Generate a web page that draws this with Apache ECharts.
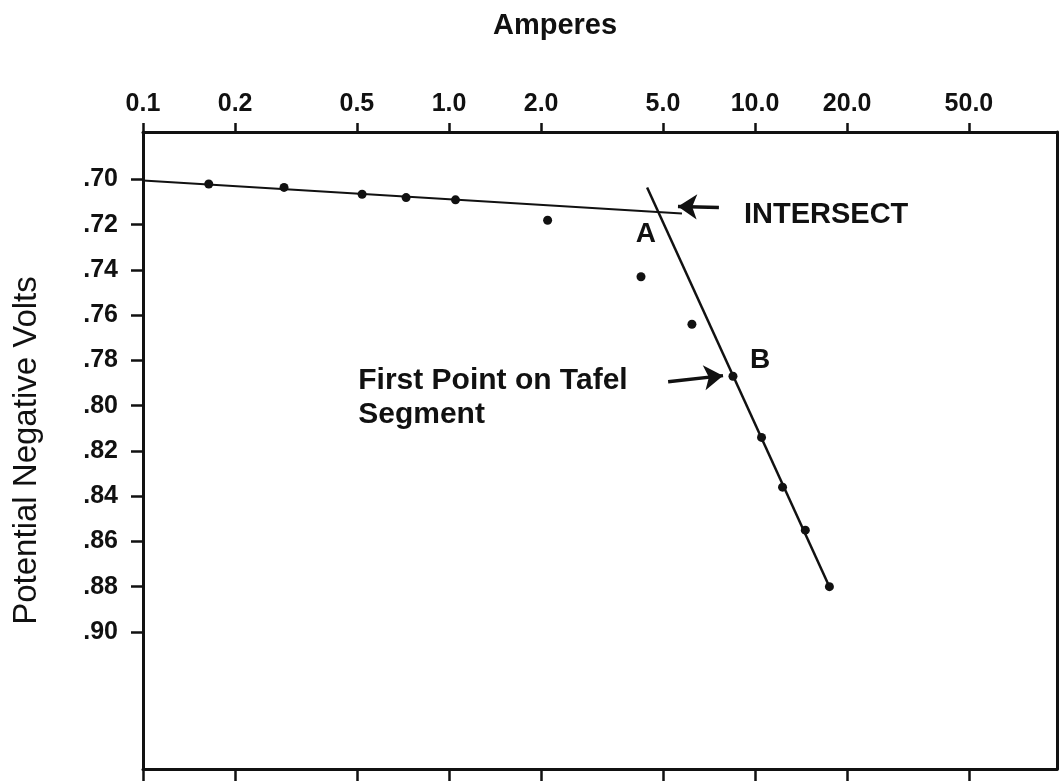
<!DOCTYPE html>
<html>
<head>
<meta charset="utf-8">
<title>Tafel plot</title>
<style>
  html, body { margin: 0; padding: 0; background: #fff; }
  #chartContainer { width: 1060px; height: 782px; }
</style>
</head>
<body>
<div id="chartContainer"></div>
<script src="https://cdn.jsdelivr.net/npm/echarts@6/dist/echarts.min.js"></script>
<script>
// measured points (current in amperes, potential in negative volts)
const amps = [0.164, 0.289, 0.52, 0.724, 1.05, 2.1, 4.24, 6.22, 8.47, 10.5, 12.3, 14.6, 17.5];
const volts = [0.702, 0.7035, 0.7065, 0.708, 0.709, 0.718, 0.743, 0.764, 0.787, 0.814, 0.836, 0.855, 0.880];

// hand drawn fit lines
const flatLine = [[0.1, 0.7004], [5.77, 0.715]];
const tafelLine = [[4.44, 0.7035], [17.5, 0.880]];

const xTicks = [0.1, 0.2, 0.5, 1, 2, 5, 10, 20, 50];
const xTickLabels = ['0.1', '0.2', '0.5', '1.0', '2.0', '5.0', '10.0', '20.0', '50.0'];
const yTicks = [0.70, 0.72, 0.74, 0.76, 0.78, 0.80, 0.82, 0.84, 0.86, 0.88, 0.90];
const yTickLabels = ['.70', '.72', '.74', '.76', '.78', '.80', '.82', '.84', '.86', '.88', '.90'];

// annotations: text, amps, volts
const notes = [
    ['INTERSECT', 9.2, 0.7159],
    ['A', 4.40, 0.7243],
    ['B', 10.38, 0.7801],
    ['First Point on Tafel\nSegment', 0.505, 0.7965]
];
const arrows = [
    [[7.62, 0.7124], [5.60, 0.7119]],
    [[5.20, 0.7894], [7.86, 0.7867]]
];

const FONT = "'Liberation Sans', Arial, sans-serif";
const INK = '#111';

function xLabel(v) {
    const i = xTicks.findIndex(t => Math.abs(Math.log10(t) - Math.log10(v)) < 1e-6);
    return i >= 0 ? xTickLabels[i] : '';
}

function yLabel(v) {
    const i = yTicks.findIndex(t => Math.abs(t - v) < 1e-6);
    return i >= 0 ? yTickLabels[i] : '';
}

const chart = echarts.init(document.getElementById('chartContainer'));

const axisLine = { show: true, onZero: false, lineStyle: { color: INK, width: 3 } };

const option = {
    animation: false,
    backgroundColor: '#fff',
    textStyle: { fontFamily: FONT },
    title: {
        text: 'Amperes',
        left: 488,
        top: 6,
        textStyle: { fontSize: 29, fontWeight: 'bold', color: INK, fontFamily: FONT }
    },
    grid: { left: 143, top: 132, right: 3, bottom: 13, containLabel: false, outerBoundsMode: 'none' },
    xAxis: [
        {
            type: 'log', position: 'top', min: 0.1, max: 97,
            axisLine,
            axisTick: { show: true, inside: false, length: 9, customValues: xTicks, lineStyle: { color: INK, width: 2.5 } },
            axisLabel: {
                customValues: xTicks, formatter: xLabel, margin: 15,
                fontSize: 25, fontWeight: 'bold', color: INK, fontFamily: FONT
            },
            minorTick: { show: false },
            splitLine: { show: false }
        },
        {
            type: 'log', position: 'bottom', min: 0.1, max: 97,
            axisLine,
            axisTick: { show: true, inside: false, length: 12, customValues: xTicks, lineStyle: { color: INK, width: 2.5 } },
            axisLabel: { show: false },
            splitLine: { show: false }
        }
    ],
    yAxis: [
        {
            type: 'value', position: 'left', inverse: true, min: 0.679, max: 0.9606,
            name: 'Potential Negative Volts',
            nameLocation: 'middle', nameGap: 100, nameRotate: 90, nameMoveOverlap: false,
            nameTextStyle: { fontSize: 33, color: INK, fontFamily: FONT },
            axisLine,
            axisTick: { show: true, inside: false, length: 12, customValues: yTicks, lineStyle: { color: INK, width: 2.5 } },
            axisLabel: {
                customValues: yTicks, formatter: yLabel, margin: 25,
                fontSize: 25, fontWeight: 'bold', color: INK, fontFamily: FONT
            },
            splitLine: { show: false }
        },
        {
            type: 'value', position: 'right', inverse: true, min: 0.679, max: 0.9606,
            axisLine,
            axisTick: { show: false },
            axisLabel: { show: false },
            splitLine: { show: false }
        }
    ],
    series: [
        {
            name: 'flat',
            type: 'line',
            data: flatLine,
            symbol: 'none',
            lineStyle: { color: INK, width: 2 },
            silent: true
        },
        {
            name: 'tafel',
            type: 'line',
            data: tafelLine,
            symbol: 'none',
            lineStyle: { color: INK, width: 2.5 },
            silent: true
        },
        {
            name: 'points',
            type: 'scatter',
            data: amps.map((a, i) => [a, volts[i]]),
            symbolSize: 9,
            itemStyle: { color: INK, opacity: 1 },
            z: 5
        },
        {
            name: 'notes',
            type: 'scatter',
            symbolSize: 0,
            silent: true,
            itemStyle: { opacity: 1 },
            data: notes.map(n => ({
                name: n[0],
                value: [n[1], n[2]],
                label: n[0].length === 1
                    ? { position: 'inside', fontSize: 28 }
                    : { position: 'right', distance: 0, fontSize: n[0] === 'INTERSECT' ? 29 : 30, lineHeight: 34 }
            })),
            label: {
                show: true,
                formatter: '{b}',
                color: INK,
                opacity: 1,
                fontWeight: 'bold',
                fontFamily: FONT
            }
        },
        {
            name: 'arrows',
            type: 'line',
            data: [],
            markLine: {
                silent: true,
                symbol: ['none', 'arrow'],
                symbolSize: 19,
                label: { show: false },
                itemStyle: { color: INK },
                lineStyle: { color: INK, width: 3.5, type: 'solid', opacity: 1 },
                data: arrows.map(a => [{ coord: a[0] }, { coord: a[1] }])
            }
        }
    ]
};

chart.setOption(option);
window.addEventListener('resize', () => chart.resize());
</script>
</body>
</html>
